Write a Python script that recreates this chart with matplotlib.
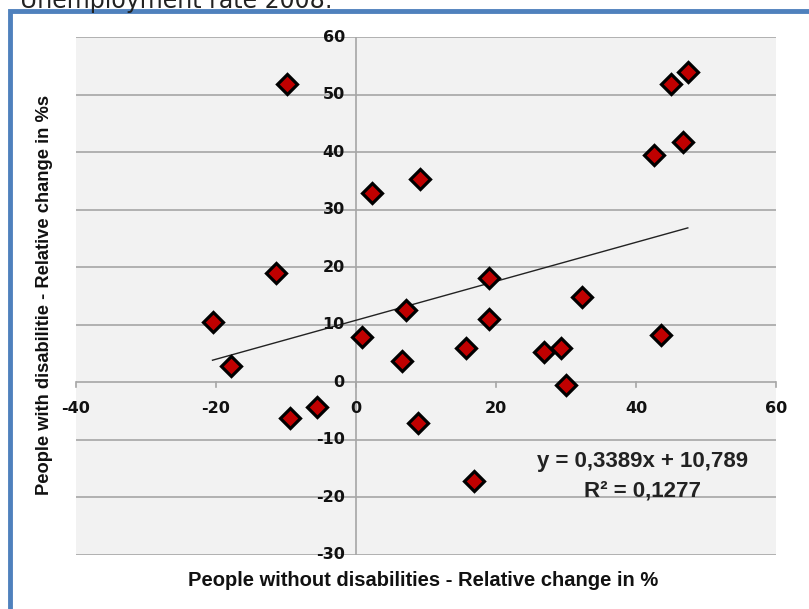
import numpy as np
import matplotlib.pyplot as plt
from matplotlib.patches import Rectangle

# relative change (%) - people without disabilities (x) vs with disabilities (y)
without_dis = [-9.9, 2.3, 9.1, -11.5, -20.5, -17.9, -9.5, -5.6, 0.8, 7.2, 6.5, 8.9,
               19.0, 15.7, 26.9, 29.3, 30.0, 43.5, 16.9, 19.0, 32.3, 45.0, 47.4, 42.5, 46.7]
with_dis = [51.8, 33.0, 35.4, 19.0, 10.5, 2.8, -6.2, -4.3, 7.9, 12.6, 3.7, -7.1,
            11.0, 5.9, 5.2, 6.0, -0.4, 8.2, -17.2, 18.1, 14.9, 51.8, 54.0, 39.5, 41.8]

# trendline as printed on the chart
slope = 0.3389
intercept = 10.789
r2 = 0.1277

x_ticks = [-40, -20, 0, 20, 40, 60]
y_ticks = [-30, -20, -10, 0, 10, 20, 30, 40, 50, 60]

label_font = 'Liberation Sans'

fig = plt.figure(figsize=(8.09, 6.09), dpi=100)

# blue outer frame (cropped screenshot)
fig.patches.append(Rectangle((9.5 / 809, -0.1), 1.2, 1 - 10.5 / 609 + 0.1,
                             transform=fig.transFigure, fill=False,
                             edgecolor='#4F81BD', linewidth=3.5))
fig.text(20 / 809, 1 - 8 / 609, "Unemployment rate 2008:", fontsize=17,
         family='DejaVu Sans', color='#222222', va='baseline')

ax = fig.add_axes([76 / 809, 1 - 554.8 / 609, 700 / 809, 517.5 / 609])
ax.set_facecolor('#F2F2F2')
ax.set_xlim(-40, 60)
ax.set_ylim(-30, 60)

for yv in y_ticks:
    ax.axhline(yv, color='#A6A6A6', linewidth=1.2, zorder=1)
ax.axvline(0, color='#A6A6A6', linewidth=1.2, zorder=1)
for s in ax.spines.values():
    s.set_visible(False)
ax.set_xticks([])
ax.set_yticks([])

# tick marks on the x axis (at y=0) and labels
for xv in x_ticks:
    ax.plot([xv, xv], [0, -0.9], color='#A6A6A6', linewidth=1.2, zorder=1, clip_on=False)
    ax.text(xv, -4.6, f"{xv}", ha='center', va='center', fontsize=11.5,
            fontweight='bold', family='DejaVu Sans', color='#111111')
for yv in y_ticks:
    ax.text(-1.6, yv, f"{yv}", ha='right', va='center', fontsize=11.5,
            fontweight='bold', family='DejaVu Sans', color='#111111')

xs = np.array([min(without_dis), max(without_dis)])
ax.plot(xs, slope * xs + intercept, color='#222222', linewidth=1.0, zorder=2)

ax.plot(without_dis, with_dis, linestyle='none', marker='D', markersize=10,
        markerfacecolor='#C00000', markeredgecolor='black', markeredgewidth=2.3, zorder=3)

ax.text(41.0, -13.7, "y = 0,3389x + 10,789", ha='center', va='center',
        fontsize=16, fontweight='bold', family=label_font, color='#222222')
ax.text(41.0, -18.9, "R² = 0,1277", ha='center', va='center',
        fontsize=16, fontweight='bold', family=label_font, color='#222222')

fig.text(423 / 809, 1 - 580 / 609, "People without disabilities - Relative change in %",
         ha='center', va='center', fontsize=14.5, fontweight='bold',
         family=label_font, color='#111111')
fig.text(45 / 809, 1 - 295 / 609, "People with disabilitie - Relative change in %s",
         ha='center', va='center', rotation=90, fontsize=13.2, fontweight='bold',
         family=label_font, color='#111111')

fig.savefig('out.png', dpi=100)
